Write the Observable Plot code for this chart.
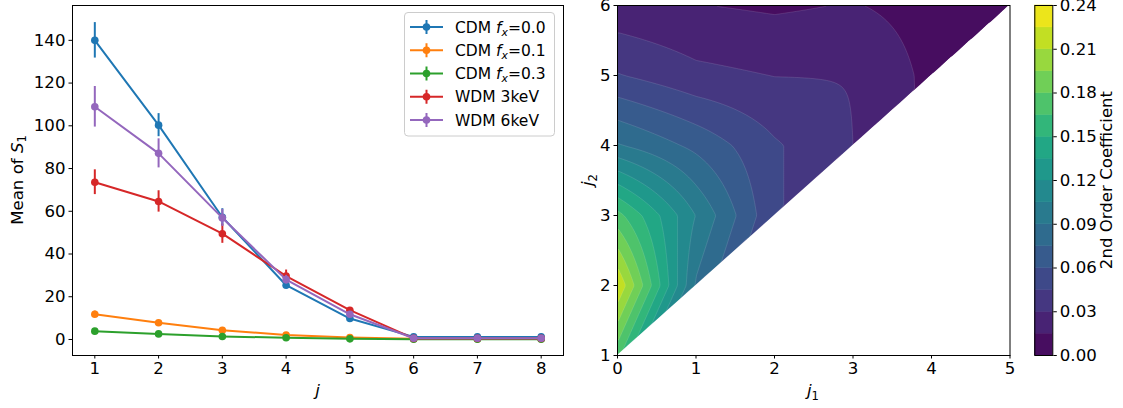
<!DOCTYPE html>
<html><head><meta charset="utf-8">
<script src="https://cdn.jsdelivr.net/npm/d3@7"></script>
<script src="https://cdn.jsdelivr.net/npm/@observablehq/plot@0.6"></script>
<style>
html,body{margin:0;padding:0;background:#fff;}
#root{position:relative;width:1123px;height:408px;overflow:hidden;font-family:"DejaVu Sans";}
#root svg{position:absolute;top:0;overflow:visible;}
</style></head><body><div id="root"></div>
<script>
// ---------- Left panel data ----------
const jVals = [1, 2, 3, 4, 5, 6, 7, 8];
const yTicks = [0, 20, 40, 60, 80, 100, 120, 140];
const cdm00 = [140.0, 100.3, 57.2, 25.4, 9.8, 1.2, 1.2, 1.2];
const cdm00Err = [8.3, 5.4, 4.0, 1.5, 1.0, 0.3, 0.3, 0.3];
const cdm01 = [11.8, 7.8, 4.3, 2.1, 0.9, 0.3, 0.3, 0.3];
const cdm01Err = [1.5, 0.8, 0.6, 0.4, 0.2, 0.1, 0.1, 0.1];
const cdm03 = [3.9, 2.6, 1.4, 0.8, 0.3, 0.1, 0.1, 0.1];
const cdm03Err = [0.6, 0.4, 0.3, 0.2, 0.1, 0.05, 0.05, 0.05];
const wdm3 = [73.6, 64.6, 49.5, 29.7, 13.7, 0.5, 0.5, 0.5];
const wdm3Err = [5.8, 5.0, 4.5, 2.8, 1.0, 0.2, 0.2, 0.2];
const wdm6 = [108.9, 87.1, 56.9, 28.0, 11.8, 0.6, 0.6, 0.6];
const wdm6Err = [9.5, 6.8, 4.0, 2.0, 1.0, 0.2, 0.2, 0.2];
const seriesNames = ["CDM f_x=0.0", "CDM f_x=0.1", "CDM f_x=0.3", "WDM 3keV", "WDM 6keV"];
const seriesColors = ["#1f77b4", "#ff7f0e", "#2ca02c", "#d62728", "#9467bd"];

// ---------- Right panel data ----------
const j1Ticks = [0, 1, 2, 3, 4, 5];
const j2Ticks = [1, 2, 3, 4, 5, 6];
// 2nd order coefficient at (j1, j2) for j2 = j1+1 ... 6
const coefJ1_0 = [0.170, 0.224, 0.1705, 0.0915, 0.046, 0.020];
const coefJ1_1 = [0.088, 0.1045, 0.071, 0.034, 0.0155];
const coefJ1_2 = [0.047, 0.047, 0.0297, 0.0128];
const coefJ1_3 = [0.030, 0.0295, 0.0159];
const coefJ1_4 = [0.0109, 0.0095];
const coefJ1_5 = [0.004];
const cbLevels = [0, 0.015, 0.03, 0.045, 0.06, 0.075, 0.09, 0.105, 0.12, 0.135, 0.15, 0.165, 0.18, 0.195, 0.21, 0.225, 0.24];
const cbTicks = [0, 0.03, 0.06, 0.09, 0.12, 0.15, 0.18, 0.21, 0.24];

const FONT = "DejaVu Sans";
const root = document.getElementById("root");

// ---------- Left panel ----------
const means = [cdm00, cdm01, cdm03, wdm3, wdm6];
const errs = [cdm00Err, cdm01Err, cdm03Err, wdm3Err, wdm6Err];
const leftMarks = [];
means.forEach((m, si) => {
  const rows = jVals.map((j, i) => ({j, m: m[i], e: errs[si][i]}));
  const c = seriesColors[si];
  leftMarks.push(Plot.line(rows, {x: "j", y: "m", stroke: c, strokeWidth: 2}));
  leftMarks.push(Plot.ruleX(rows, {x: "j", y1: d => d.m - d.e, y2: d => d.m + d.e, stroke: c, strokeWidth: 2}));
  leftMarks.push(Plot.dot(rows, {x: "j", y: "m", r: 3.8, fill: c, stroke: "none"}));
});
leftMarks.push(Plot.frame({stroke: "#000", strokeWidth: 1}));

const left = Plot.plot({
  width: 580, height: 408,
  marginLeft: 72, marginRight: 17, marginTop: 5, marginBottom: 53,
  style: {fontFamily: FONT, fontSize: "16.6px", color: "#000", background: "transparent"},
  x: {domain: [0.65, 8.35], ticks: jVals, tickFormat: d => String(d), tickSize: 3.5, tickPadding: 3.5, label: null},
  y: {domain: [-7.5, 156.3], ticks: yTicks, tickFormat: d => String(d), tickSize: 3.5, tickPadding: 3.5, label: null},
  marks: leftMarks
});
left.style.left = "0px";
root.appendChild(left);

const ls = d3.select(left);
// axis labels
const yl = ls.append("text").attr("transform", "translate(22.5,180) rotate(-90)")
  .attr("text-anchor", "middle").attr("font-family", FONT).attr("font-size", 16.6).attr("fill", "#000");
yl.append("tspan").text("Mean of ");
yl.append("tspan").attr("font-style", "italic").text("S");
yl.append("tspan").attr("font-size", 11.6).attr("dy", 3.5).text("1");
ls.append("text").attr("x", 317.5).attr("y", 396).attr("text-anchor", "middle")
  .attr("font-family", FONT).attr("font-size", 16.6).attr("font-style", "italic").attr("fill", "#000").text("j");

// legend
const lg = ls.append("g").attr("text-anchor", "start");
lg.append("rect").attr("x", 404.5).attr("y", 12.5).attr("width", 150).attr("height", 123.5)
  .attr("rx", 3.5).attr("fill", "#fff").attr("fill-opacity", 0.8).attr("stroke", "#ccc");
seriesNames.forEach((name, i) => {
  const cy = 27 + i * 23.25;
  const c = seriesColors[i];
  lg.append("line").attr("x1", 410).attr("x2", 443).attr("y1", cy).attr("y2", cy).attr("stroke", c).attr("stroke-width", 2);
  lg.append("line").attr("x1", 426.5).attr("x2", 426.5).attr("y1", cy - 7).attr("y2", cy + 7).attr("stroke", c).attr("stroke-width", 2);
  lg.append("circle").attr("cx", 426.5).attr("cy", cy).attr("r", 3.8).attr("fill", c);
  const t = lg.append("text").attr("x", 455).attr("y", cy + 5.6).attr("text-anchor", "start")
    .attr("font-family", FONT).attr("font-size", 15.5).attr("fill", "#000");
  const m = name.match(/^(CDM )f_x(=.*)$/);
  if (m) {
    t.append("tspan").text(m[1]);
    t.append("tspan").attr("font-style", "italic").text("f");
    t.append("tspan").attr("font-style", "italic").attr("font-size", 10.8).attr("dy", 3.3).text("x");
    t.append("tspan").attr("dy", -3.3).text(m[2]);
  } else {
    t.text(name);
  }
});

// ---------- Right panel: contour ----------
const grid = [coefJ1_0, coefJ1_1, coefJ1_2, coefJ1_3, coefJ1_4, coefJ1_5];
const g = (i, j2) => grid[i][j2 - i - 1];
function coef(x, y) {
  const d = y - x - 1;
  const i = Math.min(4, Math.max(0, Math.floor(x)));
  let k = Math.min(5, Math.max(1, Math.floor(y)));
  let val;
  if (k <= i + 1) {
    k = i + 1;
    const u = x - i, v = y - k;
    const A = g(i, k), D = g(i, k + 1), C = g(i + 1, k + 1);
    val = A + v * (D - A) + u * (C - D);
  } else {
    const u = x - i, v = y - k;
    const A = g(i, k), B = g(i + 1, k), D = g(i, k + 1), C = g(i + 1, k + 1);
    val = A * (1 - u) * (1 - v) + B * u * (1 - v) + D * (1 - u) * v + C * u * v;
  }
  return d >= 0 ? val : val + 8 * d;
}
const lows = cbLevels.slice(0, -1);
const colorScale = {
  type: "threshold",
  domain: lows.slice(1),
  range: lows.map((d, k) => d3.interpolateViridis((k + 0.5) / lows.length))
};
const diagonal = j1Ticks.map(j => ({j1: j, j2: j + 1}));

const right = Plot.plot({
  width: 440, height: 408,
  marginLeft: 37, marginRight: 10.5, marginTop: 5, marginBottom: 53,
  style: {fontFamily: FONT, fontSize: "16.6px", color: "#000", background: "transparent"},
  x: {domain: [0, 5], ticks: j1Ticks, tickFormat: d => String(d), tickSize: 3.5, tickPadding: 3.5, label: null},
  y: {domain: [1, 6], ticks: j2Ticks, tickFormat: d => String(d), tickSize: 3.5, tickPadding: 3.5, label: null},
  color: colorScale,
  marks: [
    Plot.contour({fill: coef, x1: 0, x2: 5, y1: 1, y2: 6, thresholds: lows,
      stroke: "#fff", strokeOpacity: 0.2, strokeWidth: 0.6}),
    Plot.areaY(diagonal, {x: "j1", y1: () => 1, y2: "j2", fill: "#fff"}),
    Plot.frame({stroke: "#000", strokeWidth: 1})
  ]
});
right.style.left = "580px";
root.appendChild(right);
const rs = d3.select(right);
const y2l = rs.append("text").attr("transform", "translate(13,180) rotate(-90)")
  .attr("text-anchor", "middle").attr("font-family", FONT).attr("font-size", 16.6).attr("fill", "#000");
y2l.append("tspan").attr("font-style", "italic").text("j");
y2l.append("tspan").attr("font-size", 11.6).attr("dy", 3.5).text("2");
const x1l = rs.append("text").attr("x", 233).attr("y", 396).attr("text-anchor", "middle")
  .attr("font-family", FONT).attr("font-size", 16.6).attr("fill", "#000");
x1l.append("tspan").attr("font-style", "italic").text("j");
x1l.append("tspan").attr("font-size", 11.6).attr("dy", 3.5).text("1");

// ---------- Colorbar ----------
const cb = Plot.plot({
  width: 103, height: 408,
  marginLeft: 14.3, marginRight: 70.7, marginTop: 5, marginBottom: 53,
  style: {fontFamily: FONT, fontSize: "16.6px", color: "#000", background: "transparent"},
  x: {domain: [0, 1], axis: null},
  y: {domain: [0, 0.24], ticks: cbTicks, tickFormat: d3.format(".2f"), axis: "right", tickSize: 3.5, tickPadding: 3.5, label: null},
  color: colorScale,
  marks: [
    Plot.rect(lows, {x1: () => 0, x2: () => 1, y1: d => d, y2: (d, i) => cbLevels[i + 1], fill: d => d, stroke: d => d, strokeWidth: 0.5}),
    Plot.frame({stroke: "#000", strokeWidth: 1})
  ]
});
cb.style.left = "1020px";
root.appendChild(cb);
d3.select(cb).append("text").attr("transform", "translate(92,180) rotate(-90)")
  .attr("text-anchor", "middle").attr("font-family", FONT).attr("font-size", 16.6).attr("fill", "#000")
  .text("2nd Order Coefficient");
</script>
</body></html>
